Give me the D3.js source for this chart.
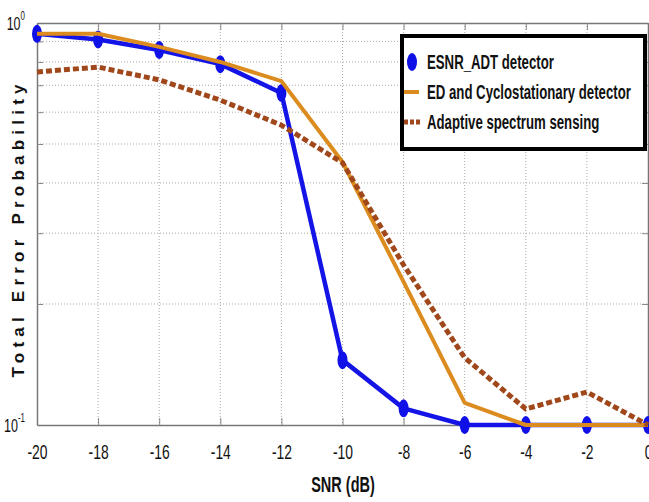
<!DOCTYPE html>
<html>
<head>
<meta charset="utf-8">
<script src="https://cdn.jsdelivr.net/npm/d3@7/dist/d3.min.js"></script>
<style>
  body { margin: 0; background: #fff; }
  text { font-family: "Liberation Sans", Arial, sans-serif; }
</style>
</head>
<body>
<div class="canvas"></div>
<script>
// data
const snr = [-20, -18, -16, -14, -12, -10, -8, -6, -4, -2, 0];
const esnrAdt = [0.94, 0.91, 0.857, 0.79, 0.67, 0.145, 0.11, 0.1, 0.1, 0.1, 0.1];
const edCyclo = [0.94, 0.94, 0.872, 0.80, 0.717, 0.451, 0.227, 0.1135, 0.1, 0.1, 0.1];
const adaptive = [0.755, 0.777, 0.722, 0.643, 0.557, 0.449, 0.25, 0.147, 0.1096, 0.1208, 0.1];
const seriesNames = ['ESNR_ADT detector', 'ED and Cyclostationary detector', 'Adaptive spectrum sensing'];
const xTicks = [-20, -18, -16, -14, -12, -10, -8, -6, -4, -2, 0];
const yMinor = [0.2, 0.3, 0.4, 0.5, 0.6, 0.7, 0.8, 0.9];
const yMajor = [0.1, 1];

const W = 649, H = 502;
const squash = 0.66; // the picture is squeezed sideways, text too

const svg = d3.select('.canvas').append('svg')
  .attr('width', W).attr('height', H);

const x = d3.scaleLinear().domain([-20, 0]).range([37, 648]);
const y = d3.scaleLog().domain([0.1, 1]).range([425, 23]);

// grid
const grid = svg.append('g')
  .attr('stroke', '#aaa').attr('stroke-width', 1).attr('stroke-dasharray', '1,2');
grid.selectAll('.vg').data(xTicks.slice(1, -1)).join('line')
  .attr('x1', d => x(d)).attr('x2', d => x(d))
  .attr('y1', y(1)).attr('y2', y(0.1));
grid.selectAll('.hg').data(yMinor).join('line')
  .attr('x1', x(-20)).attr('x2', x(0))
  .attr('y1', d => y(d)).attr('y2', d => y(d));

// axes
const xAxisBottom = d3.axisBottom(x).tickValues(xTicks).tickSizeInner(-7).tickSizeOuter(0)
  .tickPadding(19).tickFormat(d => String(d));
const xAxisTop = d3.axisTop(x).tickValues(xTicks).tickSizeInner(-7).tickSizeOuter(0).tickFormat('');
const yAxisLeft = d3.axisLeft(y).tickValues(yMinor).tickSizeInner(-6).tickSizeOuter(0).tickFormat('');
const yAxisRight = d3.axisRight(y).tickValues(yMinor).tickSizeInner(-6).tickSizeOuter(0).tickFormat('');

const gx = svg.append('g').attr('transform', `translate(0,${y(0.1)})`).call(xAxisBottom);
svg.append('g').attr('transform', `translate(0,${y(1)})`).call(xAxisTop);
svg.append('g').attr('transform', `translate(${x(-20)},0)`).call(yAxisLeft);
svg.append('g').attr('transform', `translate(${x(0)},0)`).call(yAxisRight);

svg.selectAll('.domain').attr('stroke', '#777').attr('stroke-width', 1.5);
svg.selectAll('.tick line').attr('stroke', '#888');

gx.selectAll('text')
  .attr('font-size', 21)
  .attr('fill', '#111')
  .attr('transform', `scale(${squash},1)`);

// y labels 10^0 and 10^-1
const yl = svg.append('g').selectAll('text').data(yMajor).join('text')
  .attr('transform', d => `translate(25,${y(d) + 7}) scale(${squash},1)`)
  .attr('text-anchor', 'end')
  .attr('font-size', 19)
  .attr('fill', '#111');
yl.append('tspan').text('10');
yl.append('tspan').attr('font-size', 12).attr('dy', -10)
  .text(d => Math.round(Math.log10(d)));

// axis titles
svg.append('text')
  .attr('transform', `translate(343,492) scale(${squash},1)`)
  .attr('text-anchor', 'middle')
  .attr('font-size', 22).attr('font-weight', 'bold').attr('fill', '#111')
  .text('SNR (dB)');

svg.append('text')
  .attr('transform', 'translate(24,231) rotate(-90)')
  .attr('text-anchor', 'middle')
  .attr('font-size', 17).attr('font-weight', 'bold').attr('fill', '#111')
  .attr('textLength', 293).attr('lengthAdjust', 'spacing')
  .text('Total Error Probability');

// lines
const line = d3.line().x((d, i) => x(snr[i])).y(d => y(d));
const plot = svg.append('g');

plot.append('path').datum(esnrAdt)
  .attr('d', line).attr('fill', 'none')
  .attr('stroke', '#1414e6').attr('stroke-width', 4.5).attr('stroke-linejoin', 'round');

plot.selectAll('.dot').data(esnrAdt).join('ellipse')
  .attr('cx', (d, i) => x(snr[i])).attr('cy', d => y(d))
  .attr('rx', 5).attr('ry', 9)
  .attr('fill', '#1010e8');

plot.append('path').datum(edCyclo)
  .attr('d', line).attr('fill', 'none')
  .attr('stroke', '#dc8c1e').attr('stroke-width', 4).attr('stroke-linejoin', 'round');

plot.append('path').datum(adaptive)
  .attr('d', line).attr('fill', 'none')
  .attr('stroke', '#a0481c').attr('stroke-width', 5).attr('stroke-dasharray', '6,3');

// legend
const lg = svg.append('g');
lg.append('rect')
  .attr('x', 402).attr('y', 36).attr('width', 243).attr('height', 113)
  .attr('fill', '#fff').attr('stroke', '#000').attr('stroke-width', 4);

const rowY = [69, 99, 129];
lg.selectAll('.lt').data(seriesNames).join('text')
  .attr('transform', (d, i) => `translate(427,${rowY[i]}) scale(${squash},1)`)
  .attr('font-size', 20).attr('font-weight', 'bold').attr('fill', '#111')
  .text(d => d);

lg.append('ellipse').attr('cx', 412).attr('cy', rowY[0] - 7).attr('rx', 5).attr('ry', 9).attr('fill', '#1010e8');
lg.append('line').attr('x1', 404).attr('x2', 419).attr('y1', rowY[1] - 7).attr('y2', rowY[1] - 7)
  .attr('stroke', '#dc8c1e').attr('stroke-width', 4);
lg.append('line').attr('x1', 404).attr('x2', 421).attr('y1', rowY[2] - 7).attr('y2', rowY[2] - 7)
  .attr('stroke', '#a0481c').attr('stroke-width', 5).attr('stroke-dasharray', '4,2');
</script>
</body>
</html>
